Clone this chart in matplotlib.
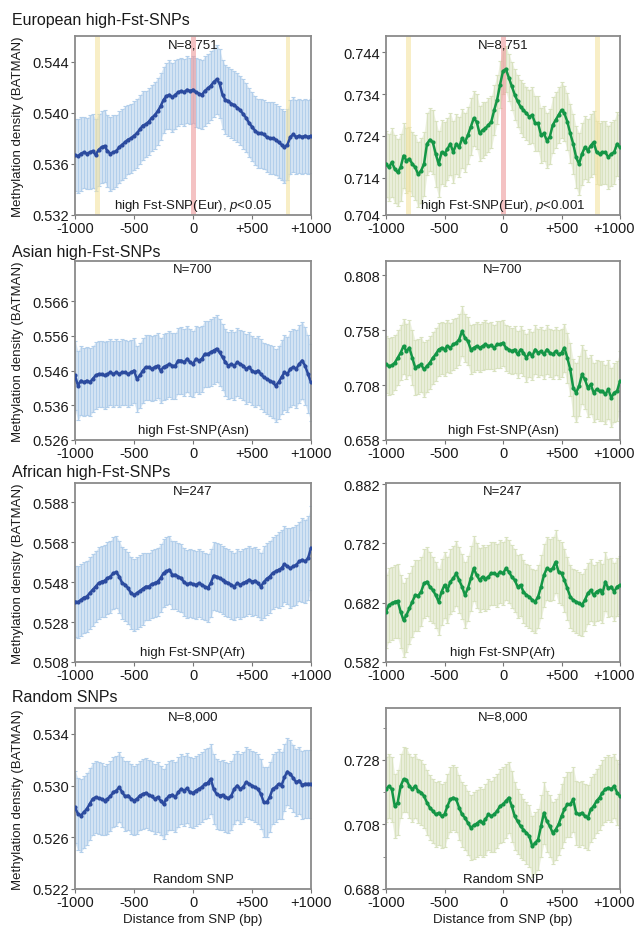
import numpy as np
import matplotlib
matplotlib.use('Agg')
import matplotlib.pyplot as plt
from matplotlib.transforms import ScaledTranslation

plt.rcParams['font.family'] = ['Liberation Sans', 'DejaVu Sans']
plt.rcParams['mathtext.fontset'] = 'custom'
plt.rcParams['mathtext.rm'] = 'Liberation Sans'
plt.rcParams['mathtext.it'] = 'Liberation Sans:italic'

# distance from SNP (bp), one value every 25 bp
dist = np.arange(-1000, 1001, 25)

eur_left = [.5367, .5366, .5368, .5369, .5368, .5369, .5370, .5367, .5371, .5373,
            .5374, .5370, .5368, .5369, .5370, .5373, .5375, .5377, .5379, .5380,
            .5382, .5384, .5387, .5390, .5391, .5393, .5396, .5398, .5401, .5405,
            .5410, .5413, .5414, .5412, .5414, .5416, .5417, .5416, .5418, .5417,
            .5418, .5416, .5415, .5414, .5417, .5419, .5421, .5424, .5426, .5423,
            .5414, .5410, .5409, .5407, .5406, .5404, .5402, .5399, .5396, .5392,
            .5389, .5386, .5384, .5384, .5383, .5381, .5380, .5380, .5379, .5377,
            .5375, .5373, .5375, .5381, .5383, .5381, .5382, .5381, .5382, .5381,
            .5382]
eur_left_err = [.0028, .0029, .0029, .0028, .0028, .0029, .0029, .0028, .0028, .0028,
                .0028, .0028, .0029, .0029, .0028, .0028, .0028, .0028, .0027, .0027,
                .0027, .0027, .0027, .0027, .0026, .0026, .0026, .0026, .0026, .0026,
                .0026, .0026, .0027, .0027, .0027, .0026, .0026, .0026, .0026, .0026,
                .0026, .0027, .0027, .0027, .0027, .0027, .0027, .0027, .0027, .0027,
                .0027, .0027, .0027, .0027, .0027, .0027, .0027, .0027, .0027, .0027,
                .0027, .0027, .0027, .0027, .0027, .0027, .0028, .0028, .0028, .0028,
                .0028, .0028, .0028, .0029, .0029, .0029, .0029, .0029, .0029, .0029,
                .0029]

eur_right = [.7173, .7165, .7177, .7161, .7153, .7165, .7193, .7181, .7185, .7173,
             .7165, .7148, .7157, .7173, .7221, .7231, .7225, .7197, .7173, .7201,
             .7197, .7209, .7221, .7201, .7221, .7213, .7234, .7225, .7242, .7262,
             .7282, .7274, .7246, .7254, .7258, .7266, .7274, .7302, .7327, .7363,
             .7395, .7400, .7379, .7359, .7339, .7323, .7310, .7302, .7294, .7286,
             .7290, .7270, .7270, .7242, .7246, .7229, .7238, .7266, .7278, .7290,
             .7302, .7294, .7274, .7246, .7221, .7189, .7173, .7197, .7213, .7205,
             .7217, .7225, .7201, .7197, .7201, .7201, .7189, .7197, .7201, .7221,
             .7213]
eur_right_err = [.0078, .0080, .0082, .0082, .0080, .0080, .0078, .0078, .0076, .0076,
                 .0078, .0078, .0078, .0076, .0075, .0075, .0076, .0078, .0078, .0076,
                 .0076, .0075, .0075, .0074, .0072, .0072, .0070, .0070, .0068, .0068,
                 .0066, .0066, .0066, .0066, .0064, .0064, .0062, .0060, .0058, .0056,
                 .0055, .0055, .0056, .0058, .0060, .0062, .0064, .0064, .0064, .0065,
                 .0066, .0066, .0066, .0066, .0066, .0066, .0066, .0066, .0066, .0066,
                 .0066, .0066, .0068, .0070, .0072, .0074, .0075, .0075, .0075, .0075,
                 .0075, .0075, .0075, .0075, .0075, .0075, .0076, .0076, .0076, .0076,
                 .0076]

asn_left = [.5446, .5417, .5431, .5426, .5431, .5426, .5436, .5446, .5450, .5450,
            .5446, .5450, .5455, .5450, .5455, .5450, .5455, .5455, .5450, .5455,
            .5460, .5436, .5446, .5460, .5470, .5470, .5465, .5470, .5474, .5460,
            .5470, .5474, .5479, .5474, .5474, .5489, .5489, .5484, .5494, .5484,
            .5479, .5494, .5489, .5494, .5508, .5508, .5513, .5518, .5523, .5513,
            .5499, .5484, .5474, .5479, .5474, .5484, .5479, .5474, .5465, .5470,
            .5460, .5455, .5460, .5450, .5441, .5436, .5431, .5426, .5417, .5426,
            .5441, .5455, .5450, .5465, .5470, .5465, .5479, .5489, .5474, .5450,
            .5426]
asn_left_err = [.0100, .0100, .0100, .0098, .0098, .0098, .0096, .0096, .0096, .0096,
                .0096, .0095, .0095, .0095, .0095, .0095, .0095, .0094, .0094, .0094,
                .0094, .0094, .0094, .0094, .0094, .0094, .0094, .0094, .0094, .0094,
                .0095, .0095, .0095, .0095, .0095, .0095, .0096, .0096, .0096, .0096,
                .0096, .0096, .0096, .0096, .0096, .0096, .0096, .0096, .0096, .0096,
                .0096, .0096, .0096, .0098, .0098, .0098, .0098, .0100, .0100, .0100,
                .0100, .0100, .0100, .0100, .0100, .0102, .0102, .0104, .0104, .0106,
                .0106, .0108, .0108, .0110, .0110, .0112, .0112, .0112, .0112, .0112,
                .0112]

asn_right = [.7268, .7253, .7259, .7283, .7328, .7374, .7435, .7389, .7419, .7328,
             .7238, .7253, .7268, .7222, .7253, .7283, .7328, .7359, .7404, .7419,
             .7404, .7435, .7419, .7450, .7465, .7495, .7571, .7510, .7480, .7404,
             .7419, .7435, .7419, .7435, .7450, .7435, .7441, .7419, .7450, .7450,
             .7465, .7419, .7404, .7389, .7404, .7359, .7404, .7374, .7328, .7374,
             .7344, .7404, .7374, .7389, .7359, .7404, .7374, .7359, .7389, .7359,
             .7374, .7419, .7328, .7222, .7056, .7010, .7071, .7177, .7132, .7056,
             .7086, .7010, .7041, .7025, .7025, .6995, .7041, .6965, .7010, .7025,
             .7116]
asn_right_err = [.026, .026, .026, .025, .025, .025, .025, .025, .025, .025,
                 .025, .025, .025, .025, .024, .024, .024, .024, .024, .024,
                 .024, .024, .023, .023, .023, .023, .023, .022, .022, .022,
                 .022, .022, .022, .022, .022, .021, .021, .021, .021, .021,
                 .021, .021, .021, .021, .021, .021, .021, .021, .022, .022,
                 .022, .022, .022, .022, .022, .022, .022, .022, .022, .022,
                 .022, .022, .023, .024, .026, .027, .027, .027, .027, .027,
                 .027, .027, .027, .027, .027, .027, .027, .027, .027, .027,
                 .027]

afr_left = [.5383, .5380, .5391, .5403, .5408, .5425, .5442, .5458, .5475, .5483,
            .5487, .5500, .5508, .5525, .5530, .5508, .5475, .5467, .5450, .5425,
            .5416, .5425, .5436, .5447, .5458, .5458, .5470, .5475, .5483, .5500,
            .5525, .5534, .5542, .5517, .5517, .5508, .5500, .5480, .5470, .5475,
            .5470, .5467, .5475, .5467, .5458, .5450, .5475, .5513, .5508, .5500,
            .5492, .5483, .5475, .5467, .5458, .5475, .5467, .5475, .5483, .5492,
            .5483, .5487, .5475, .5458, .5480, .5497, .5508, .5525, .5534, .5542,
            .5550, .5570, .5559, .5550, .5559, .5567, .5584, .5592, .5584, .5600,
            .5651]
afr_left_err = [.018, .018, .018, .018, .018, .018, .018, .018, .018, .018,
                .018, .018, .018, .018, .018, .018, .018, .018, .018, .018,
                .018, .018, .018, .018, .017, .017, .017, .017, .017, .017,
                .017, .017, .017, .017, .017, .017, .017, .017, .017, .017,
                .017, .017, .017, .017, .017, .017, .017, .017, .017, .017,
                .017, .017, .017, .017, .017, .017, .017, .017, .017, .017,
                .017, .017, .017, .017, .018, .018, .018, .018, .018, .019,
                .019, .019, .019, .020, .020, .020, .020, .021, .021, .021,
                .021]

afr_right = [.6668, .6781, .6809, .6837, .6848, .6668, .6528, .6612, .6724, .6837,
             .6949, .6938, .7005, .7146, .7174, .7090, .7033, .6949, .6837, .7005,
             .7118, .7033, .7174, .7230, .7314, .7202, .7090, .6949, .7062, .7230,
             .7399, .7286, .7202, .7258, .7219, .7258, .7314, .7314, .7286, .7342,
             .7314, .7399, .7342, .7258, .7202, .7090, .7118, .7005, .6949, .6921,
             .6865, .6837, .6921, .7090, .7286, .7399, .7371, .7399, .7511, .7342,
             .7314, .7202, .7062, .6921, .6865, .6837, .6809, .6781, .6865, .6977,
             .7033, .6949, .7005, .7033, .6977, .7174, .7062, .7090, .7005, .7090,
             .7118]
afr_right_err = [.062, .062, .062, .062, .062, .062, .062, .062, .060, .060,
                 .060, .060, .058, .058, .058, .058, .056, .056, .056, .056,
                 .056, .056, .055, .055, .055, .055, .055, .055, .055, .055,
                 .055, .055, .054, .054, .054, .054, .053, .053, .053, .053,
                 .053, .053, .053, .053, .053, .053, .053, .053, .053, .053,
                 .053, .053, .053, .053, .053, .053, .053, .053, .053, .053,
                 .053, .053, .053, .053, .053, .053, .053, .053, .052, .052,
                 .052, .050, .050, .050, .050, .050, .049, .049, .049, .049,
                 .049]

rnd_left = [.52832, .52781, .52768, .52794, .52819, .52858, .52897, .52910, .52902, .52897,
            .52884, .52897, .52917, .52948, .52961, .52987, .52948, .52917, .52923, .52897,
            .52884, .52897, .52923, .52935, .52943, .52928, .52917, .52897, .52910, .52884,
            .52858, .52897, .52923, .52928, .52910, .52948, .52974, .52961, .52979, .52948,
            .52943, .52961, .52974, .52987, .53013, .53021, .53052, .52974, .52935, .52923,
            .52928, .52910, .52902, .52923, .52974, .53000, .52974, .52987, .53026, .53013,
            .53000, .52987, .52974, .52935, .52871, .52871, .52910, .52974, .52987, .53013,
            .53000, .53065, .53108, .53090, .53057, .53026, .53039, .53005, .53013, .53013,
            .53013]
rnd_left_err = [.0028, .0028, .0028, .0028, .0028, .0028, .0028, .0028, .0028, .0028,
                .0027, .0027, .0027, .0027, .0027, .0027, .0027, .0027, .0027, .0027,
                .0027, .0027, .0027, .0027, .0027, .0027, .0027, .0027, .0027, .0027,
                .0027, .0027, .0027, .0027, .0027, .0027, .0027, .0027, .0027, .0027,
                .0027, .0027, .0027, .0027, .0027, .0027, .0027, .0027, .0027, .0027,
                .0027, .0027, .0027, .0027, .0027, .0027, .0027, .0027, .0027, .0027,
                .0027, .0027, .0027, .0027, .0027, .0027, .0027, .0027, .0027, .0027,
                .0026, .0026, .0026, .0026, .0026, .0026, .0026, .0026, .0026, .0026,
                .0026]

rnd_right = [.7189, .7199, .7189, .7137, .7148, .7199, .7220, .7218, .7199, .7189,
             .7199, .7184, .7179, .7168, .7148, .7132, .7122, .7111, .7116, .7106,
             .7111, .7137, .7158, .7163, .7158, .7132, .7111, .7101, .7085, .7070,
             .7077, .7083, .7090, .7085, .7096, .7111, .7106, .7111, .7122, .7137,
             .7142, .7153, .7163, .7137, .7106, .7090, .7075, .7064, .7054, .7044,
             .7012, .7023, .7033, .7075, .7116, .7090, .7075, .7054, .7064, .7080,
             .7106, .7127, .7142, .7142, .7158, .7116, .7111, .7116, .7106, .7101,
             .7127, .7137, .7153, .7163, .7179, .7189, .7194, .7189, .7199, .7179,
             .7168]
rnd_right_err = [.0100, .0100, .0100, .0100, .0100, .0100, .0100, .0100, .0100, .0100,
                 .0100, .0100, .0100, .0100, .0100, .0100, .0100, .0100, .0100, .0100,
                 .0100, .0100, .0100, .0100, .0100, .0100, .0100, .0100, .0100, .0100,
                 .0105, .0105, .0105, .0105, .0110, .0110, .0110, .0115, .0115, .0115,
                 .0115, .0115, .0110, .0110, .0105, .0100, .0100, .0095, .0095, .0095,
                 .0095, .0095, .0095, .0095, .0095, .0095, .0095, .0095, .0095, .0095,
                 .0100, .0100, .0100, .0100, .0100, .0100, .0100, .0100, .0100, .0100,
                 .0100, .0100, .0100, .0100, .0100, .0100, .0100, .0100, .0100, .0100,
                 .0100]

section_titles = ['European high-Fst-SNPs', 'Asian high-Fst-SNPs',
                  'African high-Fst-SNPs', 'Random SNPs']
n_labels = ['N=8,751', 'N=700', 'N=247', 'N=8,000']
bottom_labels = [['high Fst-SNP(Eur), $p$<0.05', 'high Fst-SNP(Eur), $p$<0.001'],
                 ['high Fst-SNP(Asn)', 'high Fst-SNP(Asn)'],
                 ['high Fst-SNP(Afr)', 'high Fst-SNP(Afr)'],
                 ['Random SNP', 'Random SNP']]
xtick_vals = [-1000, -500, 0, 500, 1000]
xtick_labels = ['-1000', '-500', '0', '+500', '+1000']

# highlighted windows in the European panels
yellow_spans = [(-830, -790), (785, 825)]
red_span = (-20, 28)

BLUE, BLUE_BAR, BLUE_FILL = '#2c4b9f', '#b3cfeb', '#dbe9f6'
GREEN, GREEN_BAR, GREEN_FILL = '#149646', '#d9e2c0', '#eef2e1'

panels = [
    [(eur_left, eur_left_err, (0.532, 0.546), [0.532, 0.536, 0.540, 0.544], None),
     (eur_right, eur_right_err, (0.7051, 0.7479), [0.7051, 0.714, 0.724, 0.734, 0.744],
      ['0.704', '0.714', '0.724', '0.734', '0.744'])],
    [(asn_left, asn_left_err, (0.526, 0.5776), [0.526, 0.536, 0.546, 0.556, 0.566], None),
     (asn_right, asn_right_err, (0.658, 0.821), [0.658, 0.708, 0.758, 0.808], None)],
    [(afr_left, afr_left_err, (0.508, 0.5977), [0.508, 0.528, 0.548, 0.568, 0.588], None),
     (afr_right, afr_right_err, (0.582, 0.884), [0.582, 0.682, 0.782, 0.882], None)],
    [(rnd_left, rnd_left_err, (0.522, 0.536), [0.522, 0.526, 0.530, 0.534], None),
     (rnd_right, rnd_right_err, (0.688, 0.7441), [0.688, 0.708, 0.728], None)],
]

W, H = 637, 928
fig = plt.figure(figsize=(W / 100, H / 100), dpi=100)

lefts = [75, 386]
widths = [236, 234]
tops = [37, 262, 484, 709]
heights = [179, 179, 179, 181]
title_y = [20, 252, 473, 697]

for r in range(4):
    fig.text(12 / W, 1 - title_y[r] / H, section_titles[r], fontsize=11.5,
             va='center', ha='left', color='#1a1a1a')
    for c in range(2):
        mean, err, ylim, yt, ylab = panels[r][c]
        ax = fig.add_axes([lefts[c] / W, 1 - (tops[r] + heights[r]) / H,
                           widths[c] / W, heights[r] / H])
        if c == 0:
            line_c, bar_c, fill_c = BLUE, BLUE_BAR, BLUE_FILL
        else:
            line_c, bar_c, fill_c = GREEN, GREEN_BAR, GREEN_FILL
        m = np.array(mean)
        e = np.array(err)
        ax.fill_between(dist, m - e, m + e, color=fill_c, lw=0, zorder=1)
        ax.errorbar(dist, mean, yerr=err, fmt='none', ecolor=bar_c,
                    elinewidth=1.0, capsize=1.2, capthick=0.8, zorder=2)
        if r == 0:
            for s in yellow_spans:
                ax.axvspan(s[0], s[1], color='#f4e3a0', alpha=0.6, zorder=2.5, lw=0)
            ax.axvspan(red_span[0], red_span[1], color='#ee9a9c', alpha=0.6,
                       zorder=2.5, lw=0)
        ax.plot(dist, mean, color=line_c, lw=1.8, marker='o', ms=2.0, zorder=3)
        ax.set_xlim(-1000, 1000)
        ax.set_ylim(*ylim)
        ax.set_xticks(xtick_vals)
        ax.set_xticklabels(xtick_labels)
        ax.set_yticks(yt)
        if ylab is None:
            ax.set_yticklabels(['%.3f' % v for v in yt])
        else:
            ax.set_yticklabels(ylab)
        if r == 3 and c == 1:
            ax.set_yticks([0.698, 0.718, 0.738], minor=True)
        ax.tick_params(axis='both', which='major', labelsize=10.5, length=3,
                       width=0.8, color='#777777', labelcolor='#1a1a1a', pad=1.5)
        ax.tick_params(axis='both', which='minor', length=2, width=0.6,
                       color='#777777')
        if c == 1:
            # keep "+1000" inside the figure edge
            last = ax.get_xticklabels()[-1]
            last.set_transform(last.get_transform() +
                               ScaledTranslation(-4 / 72, 0, fig.dpi_scale_trans))
        for sp in ax.spines.values():
            sp.set_color('#8a8a8a')
            sp.set_linewidth(1.3)
        ax.text(0.5, 0.955, n_labels[r], transform=ax.transAxes, ha='center',
                va='center', fontsize=9.5, color='#1a1a1a', zorder=4)
        ax.text(0.5, 0.058, bottom_labels[r][c], transform=ax.transAxes,
                ha='center', va='center', fontsize=9.5, color='#1a1a1a', zorder=4)
        if c == 0:
            ax.set_ylabel('Methylation density (BATMAN)', fontsize=9.5,
                          labelpad=6, color='#1a1a1a')
        if r == 3:
            ax.set_xlabel('Distance from SNP (bp)', fontsize=9.5, labelpad=3,
                          color='#1a1a1a')

fig.savefig('out.png', dpi=100)
